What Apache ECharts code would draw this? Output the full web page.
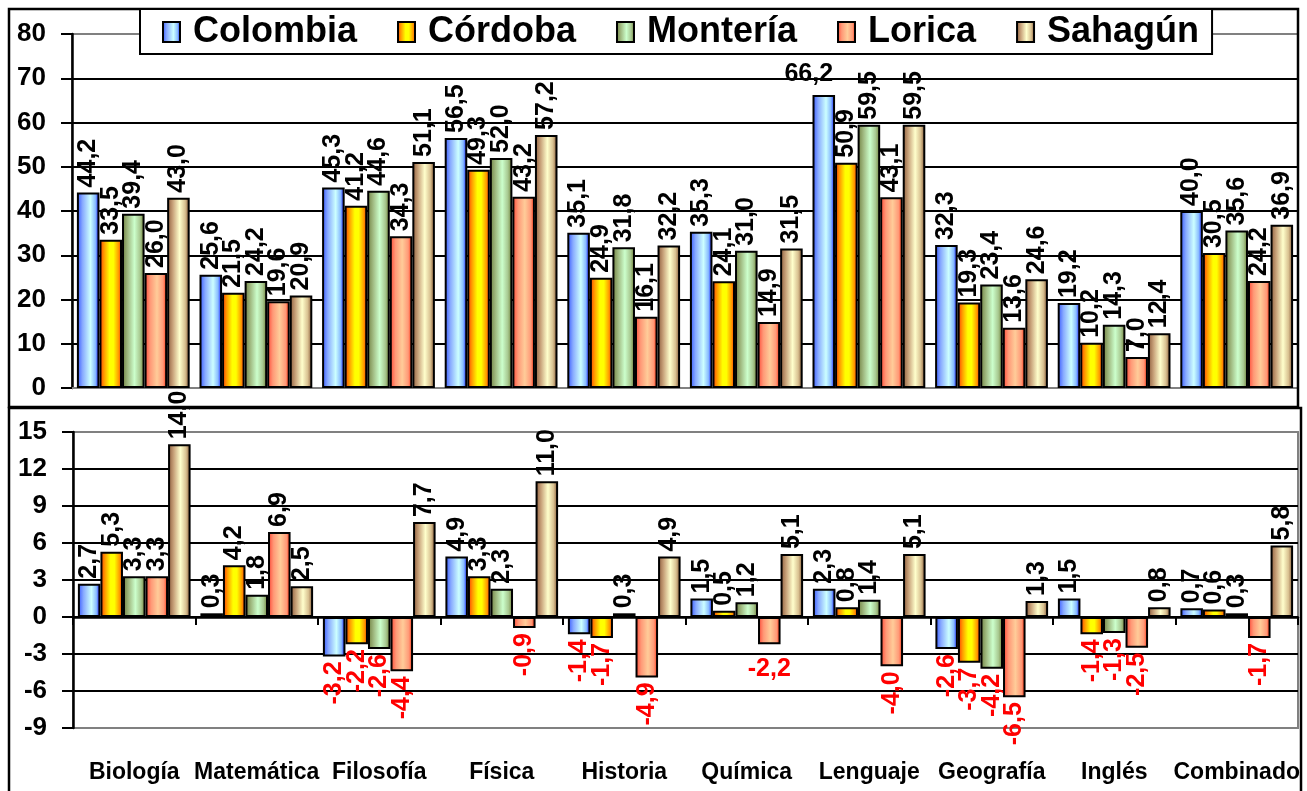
<!DOCTYPE html>
<html>
<head>
<meta charset="utf-8">
<script src="https://cdn.jsdelivr.net/npm/echarts@6/dist/echarts.min.js"></script>
<style>
  html, body { margin: 0; padding: 0; background: #fff; }
  #chart { width: 1307px; height: 791px; }
</style>
</head>
<body>
<div id="chart"></div>
<script>
// Subjects (shared by both panels)
const categories = ['Biología', 'Matemática', 'Filosofía', 'Física', 'Historia',
  'Química', 'Lenguaje', 'Geografía', 'Inglés', 'Combinado'];
const seriesNames = ['Colombia', 'Córdoba', 'Montería', 'Lorica', 'Sahagún'];

// Upper panel: average score per subject
const colombiaScore = [44.2, 25.6, 45.3, 56.5, 35.1, 35.3, 66.2, 32.3, 19.2, 40.0];
const cordobaScore  = [33.5, 21.5, 41.2, 49.3, 24.9, 24.1, 50.9, 19.3, 10.2, 30.5];
const monteriaScore = [39.4, 24.2, 44.6, 52.0, 31.8, 31.0, 59.5, 23.4, 14.3, 35.6];
const loricaScore   = [26.0, 19.6, 34.3, 43.2, 16.1, 14.9, 43.1, 13.6, 7.0, 24.2];
const sahagunScore  = [43.0, 20.9, 51.1, 57.2, 32.2, 31.5, 59.5, 24.6, 12.4, 36.9];

// Lower panel: change per subject
const colombiaChange = [2.7, 0.3, -3.2, 4.9, -1.4, 1.5, 2.3, -2.6, 1.5, 0.7];
const cordobaChange  = [5.3, 4.2, -2.2, 3.3, -1.7, 0.5, 0.8, -3.7, -1.4, 0.6];
const monteriaChange = [3.3, 1.8, -2.6, 2.3, 0.3, 1.2, 1.4, -4.2, -1.3, 0.3];
const loricaChange   = [3.3, 6.9, -4.4, -0.9, -4.9, -2.2, -4.0, -6.5, -2.5, -1.7];
const sahagunChange  = [14.0, 2.5, 7.7, 11.0, 4.9, 5.1, 5.1, 1.3, 0.8, 5.8];

// Value axis ranges
const scoreAxis  = { min: 0, max: 80, interval: 10 };
const changeAxis = { min: -9, max: 15, interval: 3 };

const scoreSets  = [colombiaScore, cordobaScore, monteriaScore, loricaScore, sahagunScore];
const changeSets = [colombiaChange, cordobaChange, monteriaChange, loricaChange, sahagunChange];

const FONT = "'Liberation Sans', Arial, sans-serif";

// Cylinder-like horizontal gradients
function grad(stops) {
  return new echarts.graphic.LinearGradient(0, 0, 1, 0,
    stops.map(c => ({ offset: c[0], color: c[1] })));
}
const fills = [
  grad([[0, '#3355ff'], [0.25, '#88aaff'], [0.6, '#ccffff'], [0.82, '#88bbff'], [1, '#0000ff']]),
  grad([[0, '#ff3300'], [0.2, '#ff9900'], [0.45, '#ffff00'], [0.62, '#ffff00'], [0.85, '#ff9900'], [1, '#ff2200']]),
  grad([[0, '#6f7f3f'], [0.25, '#9fb87f'], [0.55, '#ccffcc'], [0.8, '#a8c890'], [1, '#6a7a30']]),
  grad([[0, '#ff4433'], [0.25, '#ff9977'], [0.55, '#ffcc99'], [0.82, '#ff9977'], [1, '#ff2200']]),
  grad([[0, '#8b5a3a'], [0.25, '#c8a27a'], [0.55, '#ffffcc'], [0.8, '#d8c090'], [1, '#7a4a2a']])
];

// Labels that are laid out horizontally instead of rotated
const flatLabels = {
  top: { series: 0, index: 6, label: { rotate: 0, align: 'center', verticalAlign: 'bottom', offset: [-15, -3] } },
  bottom: { series: 3, index: 5, label: { rotate: 0, align: 'center', verticalAlign: 'top', distance: 12 } }
};

const fmt = v => v.toFixed(1).replace('.', ',');

function buildData(values, sIdx, panel) {
  return values.map((v, i) => {
    const neg = v < 0;
    const label = {
      position: neg ? 'bottom' : 'top',
      align: neg ? 'right' : 'left',
      color: neg ? '#ff0000' : '#000000'
    };
    const flat = flatLabels[panel];
    if (flat && flat.series === sIdx && flat.index === i) Object.assign(label, flat.label);
    return { value: v, label };
  });
}

function barSeries(name, values, sIdx, panel, axisIdx) {
  return {
    name,
    type: 'bar',
    xAxisIndex: axisIdx,
    yAxisIndex: panel === 'top' ? 0 : 1,
    barGap: '0%',
    barCategoryGap: '8%',
    itemStyle: { color: fills[sIdx], borderColor: '#000', borderWidth: 2 },
    label: {
      show: true,
      rotate: 90,
      verticalAlign: 'middle',
      distance: 5,
      fontSize: 25,
      fontWeight: 'bold',
      fontFamily: FONT,
      formatter: p => fmt(p.value)
    },
    data: buildData(values, sIdx, panel),
    z: 3
  };
}

const series = [];
seriesNames.forEach((n, i) => series.push(barSeries(n, scoreSets[i], i, 'top', 0)));
seriesNames.forEach((n, i) => series.push(barSeries(n, changeSets[i], i, 'bottom', 1)));

const grayEdge = '#808080';
function splitColors(count) {
  const arr = [];
  for (let i = 0; i < count; i++) arr.push('#000');
  arr[0] = grayEdge;
  arr[count - 1] = grayEdge;
  return arr;
}

const yLabel = { fontSize: 26, fontWeight: 'bold', color: '#000', fontFamily: FONT, margin: 26 };

const option = {
  animation: false,
  backgroundColor: '#fff',
  legend: {
    data: seriesNames,
    icon: 'rect',
    left: 140,
    top: 9,
    padding: [4, 13, 3, 22],
    itemGap: 40,
    itemWidth: 17,
    itemHeight: 20,
    borderColor: '#000',
    borderWidth: 2,
    backgroundColor: '#fff',
    textStyle: { fontSize: 36, fontWeight: 'bold', color: '#000', fontFamily: FONT, lineHeight: 38, padding: [0, 0, 0, 8] },
    z: 10
  },
  grid: [
    { left: 72, right: 9, top: 34, bottom: 403, show: true, borderColor: grayEdge, borderWidth: 2 },
    { left: 73, right: 9, top: 432, bottom: 63, show: true, borderColor: grayEdge, borderWidth: 2 }
  ],
  xAxis: [
    {
      type: 'category', gridIndex: 0, data: categories,
      axisLine: { show: true, lineStyle: { color: grayEdge, width: 2 } },
      axisTick: { show: false }, axisLabel: { show: false }
    },
    {
      type: 'category', gridIndex: 1, data: categories, position: 'bottom',
      axisLine: { show: false, onZero: false }, axisTick: { show: false },
      axisLabel: { fontSize: 23, fontWeight: 'bold', color: '#000', fontFamily: FONT, margin: 33, interval: 0 }
    },
    {
      type: 'category', gridIndex: 1, data: categories, position: 'bottom',
      axisLine: { show: true, onZero: true, lineStyle: { color: '#000', width: 2.5 } },
      axisTick: { show: true, length: 8, lineStyle: { color: '#000', width: 2 } },
      axisLabel: { show: false }
    }
  ],
  yAxis: [
    {
      type: 'value', gridIndex: 0, min: scoreAxis.min, max: scoreAxis.max, interval: scoreAxis.interval,
      axisLine: { show: true, lineStyle: { color: '#000', width: 2.5 } },
      axisTick: { show: true, length: 11, lineStyle: { color: '#000', width: 2 } },
      axisLabel: yLabel,
      splitLine: { show: true, lineStyle: { color: splitColors(9), width: 2 } }
    },
    {
      type: 'value', gridIndex: 1, min: changeAxis.min, max: changeAxis.max, interval: changeAxis.interval,
      axisLine: { show: true, lineStyle: { color: '#000', width: 2.5 } },
      axisTick: { show: true, length: 11, lineStyle: { color: '#000', width: 2 } },
      axisLabel: yLabel,
      splitLine: { show: true, lineStyle: { color: splitColors(9), width: 2 } }
    }
  ],
  graphic: [
    { type: 'rect', shape: { x: 9, y: 9, width: 1289, height: 398 }, style: { fill: 'none', stroke: '#000', lineWidth: 2.5 }, z: 5 },
    { type: 'rect', shape: { x: 9, y: 408, width: 1292, height: 420 }, style: { fill: 'none', stroke: '#000', lineWidth: 2.5 }, z: 5 }
  ],
  series
};

const chart = echarts.init(document.getElementById('chart'), null, { renderer: 'canvas' });
chart.setOption(option);
</script>
</body>
</html>
